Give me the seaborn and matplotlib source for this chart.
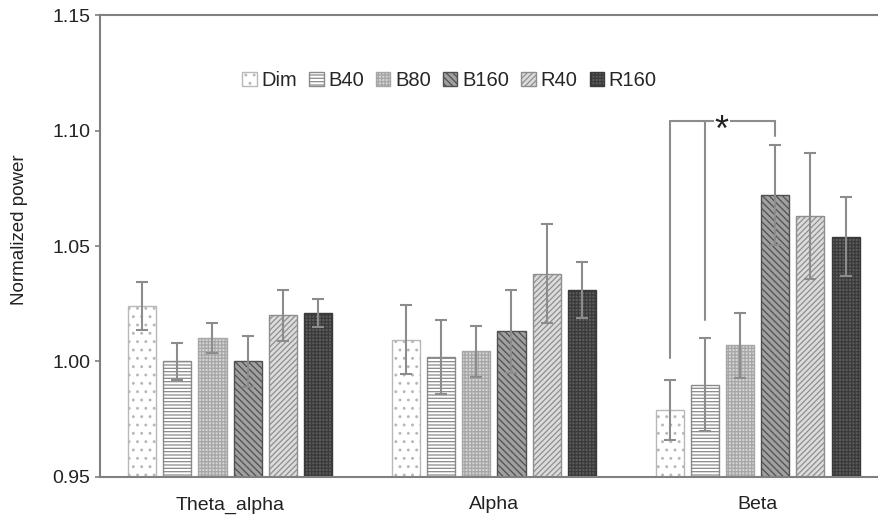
#!/usr/bin/env python

import numpy as np
import pandas as pd
import seaborn as sns
import matplotlib.pyplot as plt

bands = ["Theta_alpha", "Alpha", "Beta"]
conds = ["Dim", "B40", "B80", "B160", "R40", "R160"]

# mean normalized power per condition, one list per band
theta_alpha = [1.024, 1.000, 1.010, 1.000, 1.020, 1.021]
alpha = [1.0095, 1.002, 1.0045, 1.013, 1.038, 1.031]
beta = [0.979, 0.990, 1.007, 1.072, 1.063, 1.054]

# error bar half-lengths
theta_alpha_err = [0.0105, 0.008, 0.0065, 0.011, 0.011, 0.006]
alpha_err = [0.0148, 0.016, 0.011, 0.018, 0.0215, 0.012]
beta_err = [0.013, 0.020, 0.014, 0.0216, 0.0273, 0.017]

yticks = [0.95, 1.00, 1.05, 1.10, 1.15]

# significance bracket in Beta: Dim and B40 vs B160
sig_from = ["Dim", "B40"]
sig_to = "B160"
sig_top = 1.104
sig_drop = [1.0015, 1.018]
sig_drop_to = 1.0977

faces = ["#ffffff", "#ffffff", "#d4d4d4", "#a0a0a0", "#dcdcdc", "#5c5c5c"]
edges = ["#b8b8b8", "#8a8a8a", "#a6a6a6", "#505050", "#8e8e8e", "#3a3a3a"]
hatches = ["..", "-----", "+++++", "\\\\\\\\\\", "//////", "+++++"]


def main():
    sns.set_theme(style="white")
    plt.rcParams["font.family"] = ["Liberation Sans", "DejaVu Sans"]
    plt.rcParams["hatch.linewidth"] = 0.9

    means = [theta_alpha, alpha, beta]
    errs = [theta_alpha_err, alpha_err, beta_err]
    rows = []
    for b, m, e in zip(bands, means, errs):
        for c, v, s in zip(conds, m, e):
            rows.append({"band": b, "cond": c, "value": v, "err": s})
    data = pd.DataFrame(rows)

    fig = plt.figure(figsize=(8.79, 5.16), dpi=100)
    ax = fig.add_axes([0.1138, 0.0756, 0.8862, 0.8953])

    sns.barplot(data=data, x="band", y="value", hue="cond", order=bands,
                hue_order=conds, palette=faces, errorbar=None, gap=0.2,
                legend=False, ax=ax)

    bars = list(ax.containers)
    centers = {}
    for i, cont in enumerate(bars):
        xs = []
        for p in cont.patches:
            p.set_facecolor(faces[i])
            p.set_edgecolor(edges[i])
            p.set_hatch(hatches[i])
            p.set_linewidth(1.0)
            xs.append(p.get_x() + p.get_width() / 2)
        centers[conds[i]] = xs
        sub = data[data["cond"] == conds[i]].set_index("band").loc[bands]
        ax.errorbar(xs, sub["value"], yerr=sub["err"], fmt="none",
                    ecolor="#8c8c8c", elinewidth=1.5, capsize=4, capthick=1.5,
                    zorder=5)

    # bracket
    bi = bands.index("Beta")
    xl = [centers[c][bi] for c in sig_from]
    xr = centers[sig_to][bi]
    lc = "#8c8c8c"
    for x, y0 in zip(xl, sig_drop):
        ax.plot([x, x], [y0, sig_top], color=lc, lw=1.5, zorder=6)
    ax.plot([xr, xr], [sig_drop_to, sig_top], color=lc, lw=1.5, zorder=6)
    ax.plot([xl[0], xr], [sig_top, sig_top], color=lc, lw=1.5, zorder=6)
    ax.annotate("*", xy=(xl[1] + (xr - xl[1]) * 0.24, sig_top),
                xytext=(0, -14), textcoords="offset points", fontsize=26,
                ha="center", va="baseline", color="#222222", zorder=7,
                bbox=dict(facecolor="white", edgecolor="none", pad=0.5))

    ax.set_ylim(0.95, 1.15)
    ax.set_xlim(-0.493, 2.46)
    ax.set_yticks(yticks)
    ax.set_yticklabels([f"{t:.2f}" for t in yticks])
    ax.set_xlabel("")
    ax.set_ylabel("Normalized power", fontsize=13.5, color="#222222")
    ax.yaxis.set_label_coords(-0.092, 0.535)

    for s in ["left", "bottom", "top"]:
        ax.spines[s].set_color("#808080")
        ax.spines[s].set_linewidth(1.5)
    ax.spines["right"].set_visible(False)
    ax.tick_params(axis="y", left=True, length=3.6, width=1.2, color="#808080",
                   labelsize=14, labelcolor="#222222", pad=3.5)
    ax.tick_params(axis="x", bottom=False, labelsize=14, labelcolor="#222222",
                   pad=8)

    ax.legend(bars, conds, loc="center", bbox_to_anchor=(0.4487, 0.859),
              ncol=6, frameon=False, fontsize=14.5, handlelength=0.7,
              handleheight=0.7, handletextpad=0.25, columnspacing=0.6,
              borderpad=0)

    fig.savefig("out.png", dpi=100)


if __name__ == '__main__':
    main()
